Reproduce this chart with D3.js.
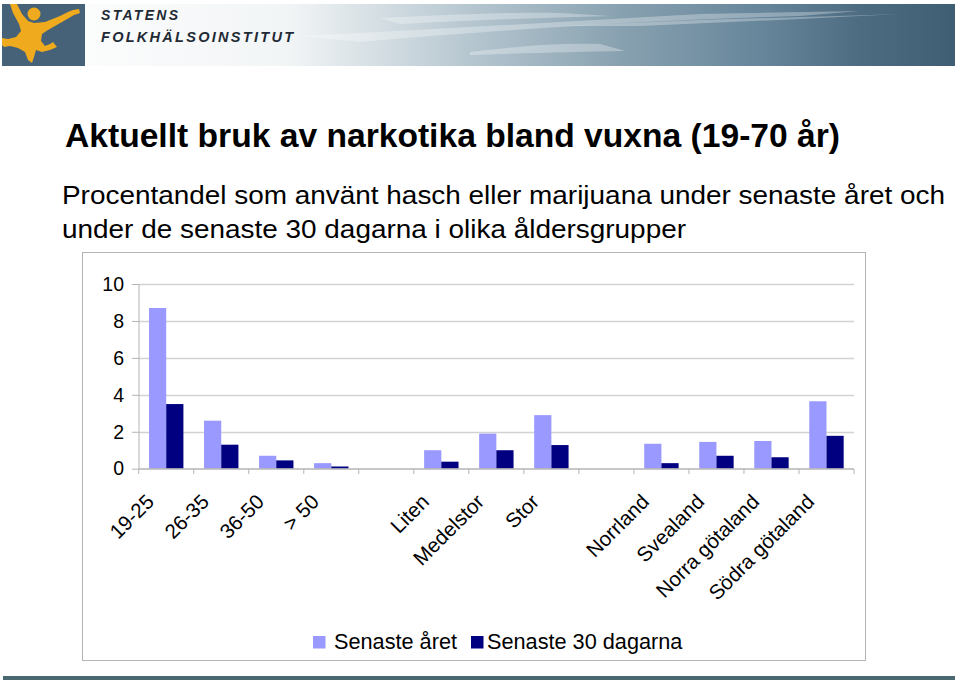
<!DOCTYPE html>
<html>
<head>
<meta charset="utf-8">
<script src="https://cdn.jsdelivr.net/npm/d3@7"></script>
<style>
  html, body { margin: 0; padding: 0; background: #ffffff; }
  svg { display: block; font-family: "Liberation Sans", Arial, Helvetica, sans-serif; }
</style>
</head>
<body>
<svg id="chart" width="960" height="685"></svg>
<script>
// ---- data ----
const categories = ["19-25", "26-35", "36-50", "> 50", "", "Liten", "Medelstor", "Stor", "", "Norrland", "Svealand", "Norra götaland", "Södra götaland"];
const seriesNames = ["Senaste året", "Senaste 30 dagarna"];
const senasteAret = [8.7, 2.6, 0.7, 0.3, null, 1.0, 1.9, 2.9, null, 1.35, 1.45, 1.5, 3.65];
const senaste30 = [3.5, 1.3, 0.45, 0.12, null, 0.38, 1.0, 1.28, null, 0.3, 0.7, 0.62, 1.78];
const yTicks = [0, 2, 4, 6, 8, 10];
const seriesColors = ["#9999ff", "#000080"];
const titleText = "Aktuellt bruk av narkotika bland vuxna (19-70 år)";
const subtitleLines = ["Procentandel som använt hasch eller marijuana under senaste året och", "under de senaste 30 dagarna i olika åldersgrupper"];

const svg = d3.select("#chart");

// ---- header band ----
const defs = svg.append("defs");
const grad = defs.append("linearGradient").attr("id", "hdr").attr("x1", "0").attr("x2", "1").attr("y1", "0").attr("y2", "0");
[[0, "#ffffff"], [0.3, "#f2f5f6"], [0.5, "#b3c4ce"], [0.65, "#88a1b0"], [0.8, "#66859a"], [0.9, "#4d6c81"], [1, "#3f5e73"]]
  .forEach(([o, c]) => grad.append("stop").attr("offset", o).attr("stop-color", c));
svg.append("rect").attr("x", 2).attr("y", 4).attr("width", 953).attr("height", 62).attr("fill", "url(#hdr)");
// light streaks
const streaks = [
  "M300,36 C420,30 560,22 700,14 L860,11 L800,16 C650,20 500,30 360,42 Z",
  "M470,52 C520,46 560,43 600,44 L625,51 C580,52 520,53 470,55 Z",
  "M380,18 C460,14 520,12 560,13 L610,16 C540,18 470,20 400,24 Z",
  "M560,26 L700,20 L870,15 L900,14 L800,19 L640,26 Z"
];
svg.selectAll("path.streak").data(streaks).join("path").attr("class", "streak")
  .attr("d", d => d).attr("fill", "#ffffff").attr("opacity", 0.3);
// logo
svg.append("rect").attr("x", 2).attr("y", 4).attr("width", 83).attr("height", 62).attr("fill", "#456278");
const fig = "M10,4 L17,4 L22,14 L28,21 L34,23 L45,22 L60,16 L68,12 L73,10 L79,9 L80,13 L74,15 L62,22 L48,30 L42,34 L41,41 L45,46 L50,44 L53,42 L57,47 L50,50 L42,52 L36,50 L34,57 L32,63 L28,60 L25,52 L18,48 L10,46 L4,47 L2,45 L2,38 L8,39 L16,37 L21,31 L19,24 L13,13 Z";
svg.append("path").attr("d", fig).attr("fill", "#f0aa1e");
svg.append("circle").attr("cx", 34).attr("cy", 14).attr("r", 6.5).attr("fill", "#f0aa1e");
svg.append("text").attr("x", 101).attr("y", 20).attr("font-size", 14).attr("font-style", "italic").attr("font-weight", "bold")
  .attr("textLength", 77).attr("lengthAdjust", "spacing").attr("fill", "#1f2a35").text("STATENS");
svg.append("text").attr("x", 101).attr("y", 42).attr("font-size", 14.5).attr("font-style", "italic").attr("font-weight", "bold")
  .attr("textLength", 192).attr("lengthAdjust", "spacing").attr("fill", "#1f2a35").text("FOLKHÄLSOINSTITUT");

// ---- titles ----
svg.append("text").attr("x", 65).attr("y", 147).attr("font-size", 33.5).attr("font-weight", "bold").attr("fill", "#000")
  .attr("textLength", 775).attr("lengthAdjust", "spacingAndGlyphs").text(titleText);
const subW = [883, 624];
svg.selectAll("text.sub").data(subtitleLines).join("text").attr("class", "sub")
  .attr("x", 62).attr("y", (d, i) => 204 + i * 34).attr("font-size", 26.5).attr("fill", "#000")
  .attr("textLength", (d, i) => subW[i]).attr("lengthAdjust", "spacingAndGlyphs").text(d => d);

// ---- chart box ----
svg.append("rect").attr("x", 82.5).attr("y", 252.5).attr("width", 783).attr("height", 408).attr("fill", "none").attr("stroke", "#b4b4b4").attr("stroke-width", 1);

const x0 = d3.scaleBand().domain(d3.range(categories.length)).range([138.7, 854]).paddingInner(0).paddingOuter(0);
const x1 = d3.scaleBand().domain([0, 1]).range([0, x0.bandwidth()]).paddingInner(0).paddingOuter(0.6);
const y = d3.scaleLinear().domain([0, 10]).range([468.7, 284]);

const plot = svg.append("g");
// gridlines
plot.selectAll("line.grid").data(yTicks.filter(t => t > 0)).join("line").attr("class", "grid")
  .attr("x1", 138.7).attr("x2", 854).attr("y1", d => Math.round(y(d)) + 0.5).attr("y2", d => Math.round(y(d)) + 0.5)
  .attr("stroke", "#d2d2d2").attr("stroke-width", 1.3);

// bars
const rows = categories.map((c, i) => ({ i, vals: [senasteAret[i], senaste30[i]] }));
const groups = plot.selectAll("g.grp").data(rows).join("g").attr("class", "grp")
  .attr("transform", d => `translate(${x0(d.i)},0)`);
groups.selectAll("rect").data(d => d.vals.map((v, k) => ({ v, k })).filter(e => e.v != null)).join("rect")
  .attr("x", d => x1(d.k)).attr("width", x1.bandwidth())
  .attr("y", d => y(d.v)).attr("height", d => y(0) - y(d.v))
  .attr("fill", d => seriesColors[d.k]);

// y axis
const yAxis = d3.axisLeft(y).tickValues(yTicks).tickSize(7).tickPadding(8).tickFormat(d3.format("d"));
const gy = svg.append("g").attr("transform", "translate(139,0)").call(yAxis);
gy.select(".domain").attr("stroke", "#b4b4b4").attr("d", `M0,${y(10)}V${y(0)}`);
gy.selectAll(".tick line").attr("stroke", "#b4b4b4");
gy.selectAll(".tick text").attr("font-size", 19.5).attr("fill", "#000").attr("font-family", "Liberation Sans, Arial, sans-serif");

// x axis baseline and boundary ticks
const bounds = d3.range(categories.length + 1).map(i => i === categories.length ? 854 : x0(i));
svg.append("line").attr("x1", 138.7).attr("x2", 854).attr("y1", 469).attr("y2", 469).attr("stroke", "#b4b4b4").attr("stroke-width", 1.3);
svg.selectAll("line.xt").data(bounds).join("line").attr("class", "xt")
  .attr("x1", d => d).attr("x2", d => d).attr("y1", 469).attr("y2", 474).attr("stroke", "#b4b4b4");

// x labels
svg.selectAll("text.xl").data(categories.map((c, i) => ({ c, i })).filter(d => d.c !== "")).join("text").attr("class", "xl")
  .attr("transform", d => `translate(${x0(d.i) + x0.bandwidth() / 2 - 11},${503}) rotate(-45)`)
  .attr("text-anchor", "end").attr("font-size", 20.5).attr("fill", "#000").text(d => d.c);

// legend
const legendX = [313, 471];
const legendTX = [21, 16];
const lg = svg.selectAll("g.lg").data(seriesNames).join("g").attr("class", "lg")
  .attr("transform", (d, i) => `translate(${legendX[i]},0)`);
lg.append("rect").attr("x", 0).attr("y", 636).attr("width", 12.5).attr("height", 12.5).attr("fill", (d, i) => seriesColors[i]);
lg.append("text").attr("x", (d, i) => legendTX[i]).attr("y", 649).attr("font-size", 21.7).attr("fill", "#000").text(d => d);

// bottom band
svg.append("rect").attr("x", 3).attr("y", 676).attr("width", 952).attr("height", 4).attr("fill", "#4a6870");
</script>
</body>
</html>
